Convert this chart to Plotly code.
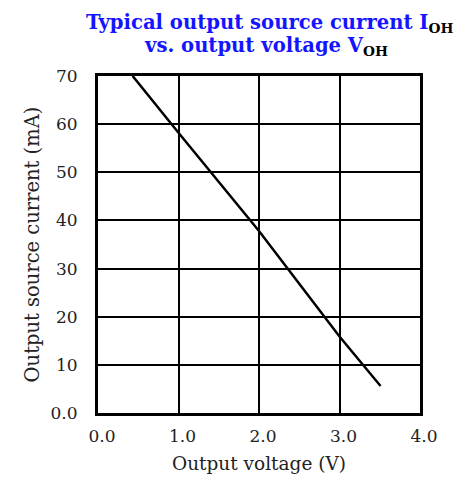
import plotly.graph_objects as go

# Data
voltage_v = [0.43, 1.0, 2.0, 3.0, 3.51]
current_ma = [70.0, 58.2, 37.8, 15.9, 5.6]

x_tick_vals = [0, 1, 2, 3, 4]
x_tick_text = ["0.0", "1.0", "2.0", "3.0", "4.0"]
y_tick_vals = [0, 10, 20, 30, 40, 50, 60, 70]
y_tick_text = ["0.0", "10", "20", "30", "40", "50", "60", "70"]

title_line1 = "Typical output source current I<sub><span style='color:black'>OH</span></sub>"
title_line2 = "vs. output voltage V<sub><span style='color:black'>OH</span></sub>"
x_title = "Output voltage (V)"
y_title = "Output source current (mA)"

FONT = "DejaVu Serif"
TXT = "#222222"

fig = go.Figure()
fig.add_trace(go.Scatter(
    x=voltage_v, y=current_ma, mode="lines",
    line=dict(color="black", width=2.5),
    showlegend=False, hoverinfo="skip",
))

axis_common = dict(
    showline=True, mirror=True, linecolor="black", linewidth=3,
    showgrid=True, gridcolor="black", gridwidth=2,
    zeroline=False, automargin=False,
    ticks="outside", tickcolor="rgba(0,0,0,0)",
    tickfont=dict(family=FONT, size=17, color=TXT),
)

fig.update_layout(
    template="none",
    width=457, height=483,
    margin=dict(l=98, r=37, t=76, b=70, pad=0),
    paper_bgcolor="white", plot_bgcolor="white",
    xaxis=dict(range=[0, 4], tickvals=x_tick_vals, ticktext=x_tick_text,
               ticklen=6, ticklabelshift=4,
               title=dict(text=x_title, font=dict(family=FONT, size=18.5, color=TXT), standoff=12),
               **axis_common),
    yaxis=dict(range=[0, 70], tickvals=y_tick_vals, ticktext=y_tick_text,
               ticklen=14,
               title=dict(text=y_title, font=dict(family=FONT, size=19.5, color=TXT), standoff=6),
               **axis_common),
    annotations=[
        dict(text="<b>" + title_line1 + "</b>", xref="paper", yref="paper",
             x=(269 - 98) / 322, y=1 + (76 - 38) / 337, xanchor="center", yanchor="bottom",
             showarrow=False, font=dict(family=FONT, size=19.6, color="#1414ff")),
        dict(text="<b>" + title_line2 + "</b>", xref="paper", yref="paper",
             x=(266 - 98) / 322, y=1 + (76 - 61) / 337, xanchor="center", yanchor="bottom",
             showarrow=False, font=dict(family=FONT, size=19.6, color="#1414ff")),
    ],
)

fig.write_html("out.html", config={"displayModeBar": False},
               post_script="document.body.style.margin='0px';")
